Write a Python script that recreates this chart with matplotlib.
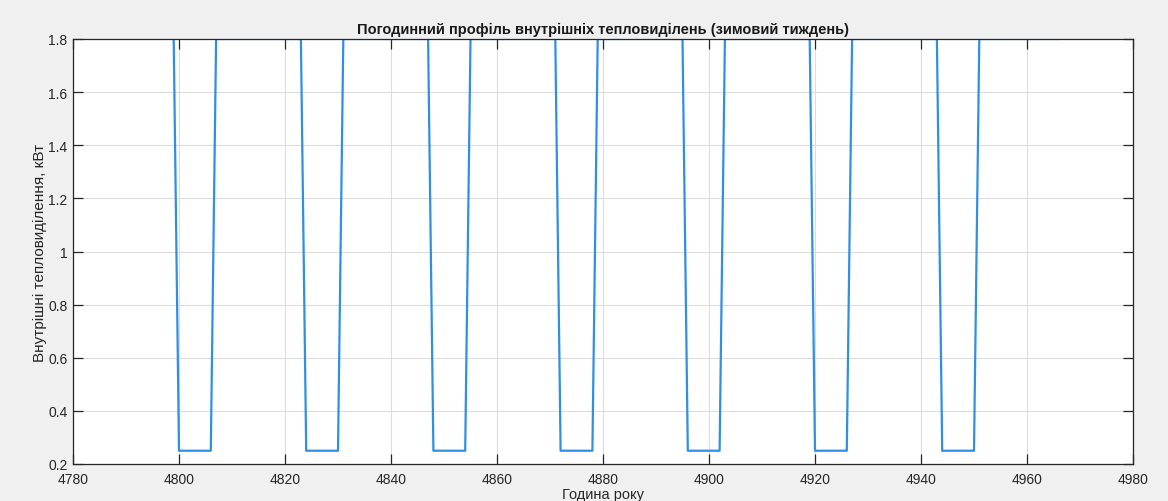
import matplotlib
matplotlib.use("Agg")
import matplotlib.pyplot as plt
import numpy as np

# Hour-of-year axis for one winter week
hours = list(range(4799, 4967))

# Internal heat gains per hour, kW (night setback 0.25, day 1.8)
gains = [1.8,
         0.25, 0.25, 0.25, 0.25, 0.25, 0.25, 0.25,
         1.8, 1.8, 1.8, 1.8, 1.8, 1.8, 1.8, 1.8, 1.8, 1.8, 1.8, 1.8, 1.8, 1.8, 1.8, 1.8, 1.8,
         0.25, 0.25, 0.25, 0.25, 0.25, 0.25, 0.25,
         1.8, 1.8, 1.8, 1.8, 1.8, 1.8, 1.8, 1.8, 1.8, 1.8, 1.8, 1.8, 1.8, 1.8, 1.8, 1.8, 1.8,
         0.25, 0.25, 0.25, 0.25, 0.25, 0.25, 0.25,
         1.8, 1.8, 1.8, 1.8, 1.8, 1.8, 1.8, 1.8, 1.8, 1.8, 1.8, 1.8, 1.8, 1.8, 1.8, 1.8, 1.8,
         0.25, 0.25, 0.25, 0.25, 0.25, 0.25, 0.25,
         1.8, 1.8, 1.8, 1.8, 1.8, 1.8, 1.8, 1.8, 1.8, 1.8, 1.8, 1.8, 1.8, 1.8, 1.8, 1.8, 1.8,
         0.25, 0.25, 0.25, 0.25, 0.25, 0.25, 0.25,
         1.8, 1.8, 1.8, 1.8, 1.8, 1.8, 1.8, 1.8, 1.8, 1.8, 1.8, 1.8, 1.8, 1.8, 1.8, 1.8, 1.8,
         0.25, 0.25, 0.25, 0.25, 0.25, 0.25, 0.25,
         1.8, 1.8, 1.8, 1.8, 1.8, 1.8, 1.8, 1.8, 1.8, 1.8, 1.8, 1.8, 1.8, 1.8, 1.8, 1.8, 1.8,
         0.25, 0.25, 0.25, 0.25, 0.25, 0.25, 0.25,
         1.8, 1.8, 1.8, 1.8, 1.8, 1.8, 1.8, 1.8, 1.8, 1.8, 1.8, 1.8, 1.8, 1.8, 1.8, 1.8]

x_ticks = [4780, 4800, 4820, 4840, 4860, 4880, 4900, 4920, 4940, 4960, 4980]
y_ticks = [0.2, 0.4, 0.6, 0.8, 1.0, 1.2, 1.4, 1.6, 1.8]
y_ticklabels = ["0.2", "0.4", "0.6", "0.8", "1", "1.2", "1.4", "1.6", "1.8"]

plt.rcParams['font.family'] = ['Liberation Sans', 'DejaVu Sans']

fig = plt.figure(figsize=(11.68, 5.02), dpi=100, facecolor='#f0f0f0')
ax = fig.add_axes([73/1168, 1 - 465/502, 1060/1168, 425/502])
ax.set_facecolor('white')

ax.plot(hours, gains, color='#2f8fe6', linewidth=1.6)

ax.set_xlim(4780, 4980)
ax.set_ylim(0.2, 1.8)
ax.set_xticks(x_ticks)
ax.set_yticks(y_ticks)
ax.set_yticklabels(y_ticklabels)

ax.grid(True, color='#dcdcdc', linewidth=0.8)
ax.set_axisbelow(True)
ax.tick_params(direction='in', length=7, width=0.9, color='#262626',
               labelsize=10, labelcolor='#262626', top=True, right=True,
               pad=4)
ax.tick_params(axis='x', pad=5.5)
for side in ax.spines.values():
    side.set_color('#262626')
    side.set_linewidth(0.9)

ax.set_title("Погодинний профіль внутрішніх тепловиділень (зимовий тиждень)",
             fontsize=10.5, fontweight='bold', color='#1a1a1a', pad=4)
ax.set_xlabel("Година року", fontsize=10.5, color='#262626', labelpad=1)
ax.set_ylabel("Внутрішні тепловиділення, кВт", fontsize=11, color='#262626',
              labelpad=1)

fig.savefig("out.png", dpi=100, facecolor=fig.get_facecolor())
